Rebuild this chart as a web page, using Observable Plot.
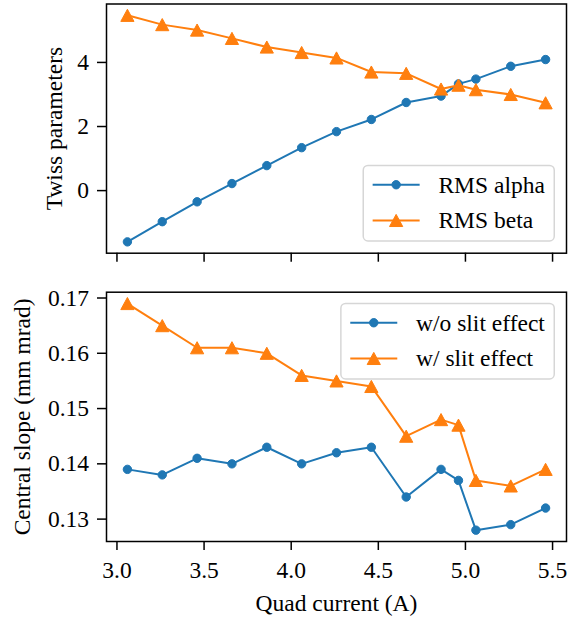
<!DOCTYPE html>
<html>
<head>
<meta charset="utf-8">
<script src="https://cdn.jsdelivr.net/npm/d3@7"></script>
<script src="https://cdn.jsdelivr.net/npm/@observablehq/plot@0.6"></script>
<style>
  html, body { margin: 0; padding: 0; background: #fff; }
  #fig { position: relative; width: 569px; height: 619px; background: #fff; }
  #fig svg { display: block; }
  #fig svg text { font-family: "Liberation Serif", serif; }
</style>
</head>
<body>
<div id="fig"></div>
<script>
// Quadrupole scan: beam Twiss parameters and central slope vs. quad current
const current      = [3.06, 3.26, 3.46, 3.66, 3.86, 4.06, 4.26, 4.46, 4.66, 4.86, 4.96, 5.06, 5.26, 5.46];
const rmsAlpha     = [-1.60, -0.97, -0.35, 0.22, 0.78, 1.34, 1.84, 2.22, 2.75, 2.95, 3.33, 3.48, 3.88, 4.09];
const rmsBeta      = [5.47, 5.18, 5.01, 4.75, 4.48, 4.31, 4.14, 3.70, 3.66, 3.17, 3.29, 3.15, 3.00, 2.74];
const slopeNoSlit  = [0.139, 0.138, 0.141, 0.140, 0.143, 0.140, 0.142, 0.143, 0.134, 0.139, 0.137, 0.128, 0.129, 0.132];
const slopeSlit    = [0.169, 0.165, 0.161, 0.161, 0.160, 0.156, 0.155, 0.154, 0.145, 0.148, 0.147, 0.137, 0.136, 0.139];

const xTicks     = [3.0, 3.5, 4.0, 4.5, 5.0, 5.5];
const twissTicks = [0, 2, 4];
const slopeTicks = [0.13, 0.14, 0.15, 0.16, 0.17];

const twissLegend = ["RMS alpha", "RMS beta"];
const slopeLegend = ["w/o slit effect", "w/ slit effect"];

const BLUE = "#1f77b4", ORANGE = "#ff7f0e";
const FONT = "Liberation Serif, serif";
const FS = 23.5;
const W = 569;
const ML = 106, MR = 3;
const DOT_R = 4.2, TRI_R = 6.6;

// padded extent, 5% each side
function padded(...arrays) {
  const [lo, hi] = d3.extent(arrays.flat());
  const m = (hi - lo) * 0.05;
  return [lo - m, hi + m];
}
const xDomain = padded(current);

// upward triangle centred on its bounding box
const triangleUp = {
  draw(ctx, size) {
    const r = Math.sqrt(size / Math.PI);
    ctx.moveTo(0, -0.92 * r);
    ctx.lineTo(r, 0.92 * r);
    ctx.lineTo(-r, 0.92 * r);
    ctx.closePath();
  }
};
function trianglePath(cx, cy, r) {
  return `M${cx},${cy - 0.92 * r}L${cx + r},${cy + 0.92 * r}L${cx - r},${cy + 0.92 * r}Z`;
}

function series(ys, color, symbol) {
  const r = symbol === "circle" ? DOT_R : TRI_R;
  return [
    Plot.line(current, {x: current, y: ys, stroke: color, strokeWidth: 2}),
    Plot.dot(current, {x: current, y: ys, r, symbol: symbol === "circle" ? "circle" : triangleUp,
                       fill: color, stroke: color, strokeWidth: 1})
  ];
}

function axes(yTicks, yFormat, showXLabels) {
  return [
    Plot.axisX({ticks: xTicks, tickSize: 9, tickPadding: 11, strokeWidth: 1.5,
                tickFormat: showXLabels ? d3.format(".1f") : () => "", label: null, fontSize: FS}),
    Plot.axisY({ticks: yTicks, tickSize: 9, tickPadding: 8.5, strokeWidth: 1.5,
                tickFormat: yFormat, label: null, fontSize: FS})
  ];
}

function yTitle(text, dx) {
  return Plot.text([text], {frameAnchor: "left", rotate: -90, dx, textAnchor: "middle",
                            lineAnchor: "middle", fontSize: FS, fill: "black"});
}

function drawLegend(svg, labels, {right, top, bottom}) {
  const g = d3.select(svg).append("g")
    .attr("font-family", FONT).attr("font-size", FS).attr("text-anchor", "start");
  const pad = 0.4 * FS, handle = 2 * FS, gap = 0.8 * FS;
  const boxH = 75.5, row0 = 19.3, rowStep = 35.7;
  const y0 = top != null ? top : bottom - boxH;
  const texts = labels.map((t) => g.append("text").text(t)
    .attr("dy", "0.34em").attr("fill", "black").style("font-family", FONT));
  const maxW = d3.max(texts, t => t.node().getComputedTextLength());
  const boxW = pad + handle + gap + maxW + pad;
  const x0 = right - boxW;
  g.insert("rect", ":first-child")
    .attr("x", x0).attr("y", y0).attr("width", boxW).attr("height", boxH)
    .attr("rx", 0.2 * FS).attr("fill", "white").attr("fill-opacity", 0.8)
    .attr("stroke", "#cccccc").attr("stroke-opacity", 0.8).attr("stroke-width", 1.5);
  const colors = [BLUE, ORANGE];
  labels.forEach((t, i) => {
    const cy = y0 + row0 + i * rowStep;
    const hx = x0 + pad;
    g.append("line").attr("x1", hx).attr("x2", hx + handle).attr("y1", cy).attr("y2", cy)
      .attr("stroke", colors[i]).attr("stroke-width", 2);
    if (i === 0) {
      g.append("circle").attr("cx", hx + handle / 2).attr("cy", cy).attr("r", DOT_R)
        .attr("fill", colors[i]).attr("stroke", colors[i]).attr("stroke-width", 1);
    } else {
      g.append("path").attr("d", trianglePath(hx + handle / 2, cy, TRI_R))
        .attr("fill", colors[i]).attr("stroke", colors[i]).attr("stroke-width", 1);
    }
    texts[i].attr("x", hx + handle + gap).attr("y", cy);
  });
}

const baseStyle = `font-family: ${FONT}; font-size: ${FS}px; color: black; background: white; overflow: visible;`;

// Upper panel: Twiss parameters
const H1 = 270, MT1 = 3.5, MB1 = 17.3;
const twissPlot = Plot.plot({
  width: W, height: H1,
  marginLeft: ML, marginRight: MR, marginTop: MT1, marginBottom: MB1,
  style: baseStyle,
  x: {domain: xDomain},
  y: {domain: padded(rmsAlpha, rmsBeta)},
  marks: [
    ...series(rmsAlpha, BLUE, "circle"),
    ...series(rmsBeta, ORANGE, "triangle"),
    ...axes(twissTicks, d3.format("d"), false),
    yTitle("Twiss parameters", -52),
    Plot.frame({stroke: "black", strokeWidth: 1.5})
  ]
});

// Lower panel: central slope
const H2 = 349, MT2 = 21.7, MB2 = 78;
const slopePlot = Plot.plot({
  width: W, height: H2,
  marginLeft: ML, marginRight: MR, marginTop: MT2, marginBottom: MB2,
  style: baseStyle,
  x: {domain: xDomain},
  y: {domain: padded(slopeNoSlit, slopeSlit)},
  marks: [
    ...series(slopeNoSlit, BLUE, "circle"),
    ...series(slopeSlit, ORANGE, "triangle"),
    ...axes(slopeTicks, d3.format(".2f"), true),
    yTitle("Central slope (mm mrad)", -84),
    Plot.text(["Quad current (A)"], {frameAnchor: "bottom", dy: 62, textAnchor: "middle",
                                     lineAnchor: "middle", fontSize: FS, fill: "black"}),
    Plot.frame({stroke: "black", strokeWidth: 1.5})
  ]
});

const fig = document.getElementById("fig");
fig.append(twissPlot, slopePlot);
d3.selectAll("#fig svg text").style("font-family", FONT);

const frameRight = W - MR - 11.75;
drawLegend(twissPlot, twissLegend, {right: frameRight, bottom: H1 - MB1 - 11.75});
drawLegend(slopePlot, slopeLegend, {right: frameRight, top: MT2 + 11.75});
</script>
</body>
</html>
